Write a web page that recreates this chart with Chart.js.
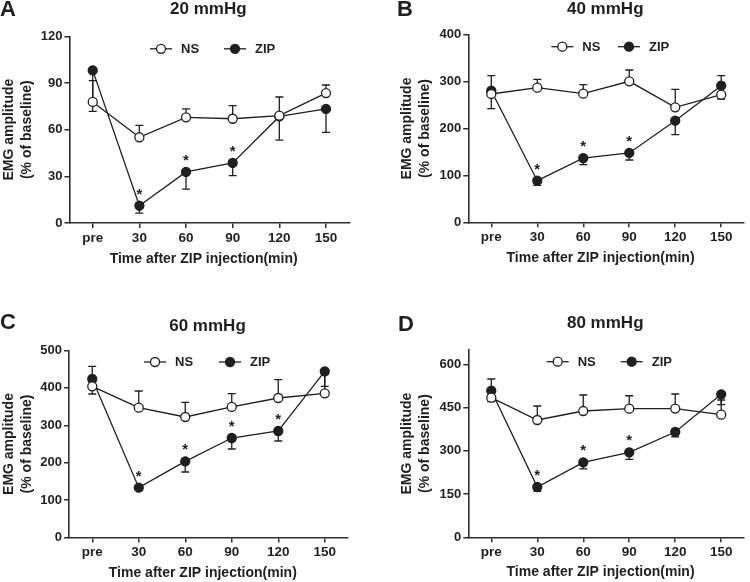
<!DOCTYPE html>
<html>
<head>
<meta charset="utf-8">
<script src="https://cdn.jsdelivr.net/npm/chart.js@4.4.1/dist/chart.umd.min.js"></script>
<style>
  html, body { margin: 0; padding: 0; background: #ffffff; }
  #wrap { position: relative; width: 750px; height: 582px; overflow: hidden; background: #fff; }
  .panel { position: absolute; width: 375px; height: 291px; }
  canvas { display: block; }
</style>
</head>
<body>
<div id="wrap">
  <div class="panel" style="left:0;top:0"><canvas id="cA" width="375" height="291"></canvas></div>
  <div class="panel" style="left:375px;top:0"><canvas id="cB" width="375" height="291"></canvas></div>
  <div class="panel" style="left:0;top:291px"><canvas id="cC" width="375" height="291"></canvas></div>
  <div class="panel" style="left:375px;top:291px"><canvas id="cD" width="375" height="291"></canvas></div>
</div>
<script>
// ---------------- DATA ----------------
const timeLabels = ['pre', '30', '60', '90', '120', '150'];
const seriesNames = ['NS', 'ZIP'];
const xAxisTitle = 'Time after ZIP injection(min)';
const yAxisTitle = ['EMG amplitude', '(% of baseline)'];

// Panel A — 20 mmHg
const titleA = '20 mmHg';
const nsA     = [77.8, 55.1, 67.9, 67.0, 69.0, 83.5];
const nsErrA  = [13.7, 7.7, 5.4, 8.4, 12.0, 5.2];      // + = bar drawn upward, - = downward
const zipA    = [98.1, 11.1, 32.8, 38.6, 68.5, 73.3];
const zipErrA = [-26.3, -4.7, -11.0, -8.2, -15.2, -15.0];
const sigA    = [0, 1, 1, 1, 0, 0];
const yTicksA = [0, 30, 60, 90, 120];
const yMaxA   = 120;

// Panel B — 40 mmHg
const titleB = '40 mmHg';
const nsB     = [273.6, 287.0, 274.3, 300.6, 245.2, 272.1];
const nsErrB  = [39.0, 17.9, 19.1, 24.1, 38.4, 40.5];
const zipB    = [280.6, 88.7, 137.0, 147.8, 216.6, 291.3];
const zipErrB = [-38.4, -9.8, -14.2, -15.0, -29.8, -28.4];
const sigB    = [0, 1, 1, 1, 0, 0];
const yTicksB = [0, 100, 200, 300, 400];
const yMaxB   = 400;

// Panel C — 60 mmHg
const titleC = '60 mmHg';
const nsC     = [404.3, 347.1, 322.2, 349.0, 373.0, 385.5];
const nsErrC  = [-20.6, 44.6, 39.3, 35.5, 49.0, 50.5];
const zipC    = [423.8, 133.2, 203.7, 266.0, 284.8, 444.4];
const zipErrC = [33.9, -3.0, -28.6, -29.4, -26.8, -40.4];
const sigC    = [0, 1, 1, 1, 1, 0];
const yTicksC = [0, 100, 200, 300, 400, 500];
const yMaxC   = 500;

// Panel D — 80 mmHg
const titleD = '80 mmHg';
const nsD     = [484.2, 406.9, 438.0, 446.0, 446.5, 425.3];
const nsErrD  = [-13.8, 48.5, 55.6, 45.0, 50.5, 51.0];
const zipD    = [508.5, 174.5, 260.0, 294.8, 365.2, 496.0];
const zipErrD = [40.5, -15.0, -23.0, -24.3, -17.2, -36.0];
const sigD    = [0, 1, 1, 1, 0, 0];
const yTicksD = [0, 150, 300, 450, 600];
const yMaxD   = 650;

// ---------------- STYLE ----------------
const FONT = '"Liberation Sans", Arial, Helvetica, sans-serif';
const INK = '#1f1f1f';
const AXIS = '#2e2e2e';
Chart.defaults.font.family = FONT;
Chart.defaults.color = INK;

const decor = {
  id: 'decor',
  beforeDatasetsDraw(chart, args, o) {
    const ctx = chart.ctx, xs = chart.scales.x, ys = chart.scales.y;
    ctx.save();
    ctx.strokeStyle = INK;
    ctx.lineWidth = 1.3;
    [[0, o.nsErr], [1, o.zipErr]].forEach(([di, errs]) => {
      const vals = chart.data.datasets[di].data;
      errs.forEach((e, i) => {
        if (!e) return;
        const x = xs.getPixelForValue(i);
        const y0 = ys.getPixelForValue(vals[i]);
        const y1 = ys.getPixelForValue(vals[i] + e);
        ctx.beginPath();
        ctx.moveTo(x, y0); ctx.lineTo(x, y1);
        ctx.moveTo(x - 4, y1); ctx.lineTo(x + 4, y1);
        ctx.stroke();
      });
    });
    ctx.restore();
  },
  afterDraw(chart, args, o) {
    const ctx = chart.ctx, xs = chart.scales.x, ys = chart.scales.y;
    const ca = chart.chartArea;
    const cx = (ca.left + ca.right) / 2;
    ctx.save();
    ctx.fillStyle = INK;
    // significance asterisks above ZIP points
    ctx.font = 'bold 15px ' + FONT;
    ctx.textAlign = 'center';
    ctx.textBaseline = 'middle';
    const zv = chart.data.datasets[1].data;
    o.sig.forEach((s, i) => {
      if (!s) return;
      ctx.fillText('*', xs.getPixelForValue(i), ys.getPixelForValue(zv[i]) - 11);
    });
    // panel letter
    ctx.font = 'bold 22px ' + FONT;
    ctx.textAlign = 'left';
    ctx.fillText(o.letter, o.letterX, o.letterY);
    // panel title
    ctx.font = 'bold 17px ' + FONT;
    ctx.textAlign = 'center';
    ctx.fillText(o.title, cx - 1, o.titleY);
    // x axis title
    ctx.font = 'bold 14px ' + FONT;
    ctx.fillText(xAxisTitle, cx - 5.7, o.xTitleY);
    // legend
    const ly = ca.top + o.legendY;
    const items = [[o.legendNS, '#ffffff', seriesNames[0]], [o.legendZIP, INK, seriesNames[1]]];
    ctx.lineWidth = 1.3;
    ctx.strokeStyle = INK;
    ctx.font = 'bold 13px ' + FONT;
    ctx.textAlign = 'left';
    items.forEach(([dx, fill, name]) => {
      const px = ca.left + dx;
      ctx.beginPath();
      ctx.moveTo(px - 11, ly); ctx.lineTo(px + 11, ly);
      ctx.stroke();
      ctx.beginPath();
      ctx.arc(px, ly, 4.5, 0, Math.PI * 2);
      ctx.fillStyle = fill;
      ctx.fill();
      ctx.stroke();
      ctx.fillStyle = INK;
      ctx.fillText(name, px + 20, ly + 0.5);
    });
    ctx.restore();
  }
};

function makePanel(id, ns, zip, nsErr, zipErr, sig, yTicks, yMax, lay, deco) {
  const step = yTicks[1] - yTicks[0];
  return new Chart(document.getElementById(id), {
    type: 'line',
    data: {
      labels: timeLabels,
      datasets: [
        { label: seriesNames[0], data: ns, borderColor: INK, borderWidth: 1.3,
          pointRadius: 4.5, pointHoverRadius: 4.5, pointBackgroundColor: '#ffffff',
          pointBorderColor: INK, pointBorderWidth: 1.3, tension: 0, order: 0 },
        { label: seriesNames[1], data: zip, borderColor: INK, borderWidth: 1.3,
          pointRadius: 4.5, pointHoverRadius: 4.5, pointBackgroundColor: INK,
          pointBorderColor: INK, pointBorderWidth: 1.3, tension: 0, order: 1 }
      ]
    },
    options: {
      responsive: false,
      animation: false,
      events: [],
      layout: { padding: { left: lay.padL, right: lay.padR, top: lay.top, bottom: 0 } },
      plugins: {
        legend: { display: false },
        tooltip: { enabled: false },
        title: { display: false },
        decor: Object.assign({ nsErr, zipErr, sig }, deco)
      },
      scales: {
        x: {
          type: 'category',
          offset: true,
          grid: { drawOnChartArea: false, drawTicks: true, tickLength: 5, color: AXIS, lineWidth: 1.5 },
          border: { display: true, color: AXIS, width: 1.6 },
          ticks: { color: INK, font: { size: 13.5, weight: 'bold' }, padding: 2, maxRotation: 0, autoSkip: false },
          afterFit: s => { s.height = lay.xH; }
        },
        y: {
          min: 0, max: yMax,
          grid: { drawOnChartArea: false, drawTicks: true, tickLength: 5, color: AXIS, lineWidth: 1.5 },
          border: { display: true, color: AXIS, width: 1.6 },
          ticks: { stepSize: step, color: INK, font: { size: 13, weight: 'bold' }, padding: 2 },
          afterBuildTicks: s => { s.ticks = yTicks.map(v => ({ value: v })); },
          title: { display: true, text: yAxisTitle, color: INK,
                   font: { size: 14, weight: 'bold', lineHeight: 1.3 }, padding: { top: 0, bottom: 0 } },
          afterFit: s => { s.width = lay.yW; }
        }
      }
    },
    plugins: [decor]
  });
}

makePanel('cA', nsA, zipA, nsErrA, zipErrA, sigA, yTicksA, yMaxA,
  { padL: 0, yW: 69.4, padR: 25.7, top: 36.3, xH: 68 },
  { letter: 'A', letterX: 0, letterY: 10, title: titleA, titleY: 9.5, xTitleY: 259.5,
    legendNS: 91.6, legendZIP: 165.6, legendY: 12.5 });
makePanel('cB', nsB, zipB, nsErrB, zipErrB, sigB, yTicksB, yMaxB,
  { padL: 23, yW: 70.3, padR: 0.6, top: 34.7, xH: 68.7 },
  { letter: 'B', letterX: 22, letterY: 10, title: titleB, titleY: 9.5, xTitleY: 258.5,
    legendNS: 94, legendZIP: 160.7, legendY: 12 });
makePanel('cC', nsC, zipC, nsErrC, zipErrC, sigC, yTicksC, yMaxC,
  { padL: 0, yW: 69, padR: 27, top: 59.5, xH: 44.5 },
  { letter: 'C', letterX: 0, letterY: 31.5, title: titleC, titleY: 35, xTitleY: 282.5,
    legendNS: 86, legendZIP: 161, legendY: 11.5 });
makePanel('cD', nsD, zipD, nsErrD, zipErrD, sigD, yTicksD, yMaxD,
  { padL: 23, yW: 70.3, padR: 0.6, top: 58.9, xH: 44.7 },
  { letter: 'D', letterX: 23, letterY: 33.5, title: titleD, titleY: 32, xTitleY: 280.8,
    legendNS: 89.4, legendZIP: 163.4, legendY: 11.8 });
</script>
</body>
</html>
